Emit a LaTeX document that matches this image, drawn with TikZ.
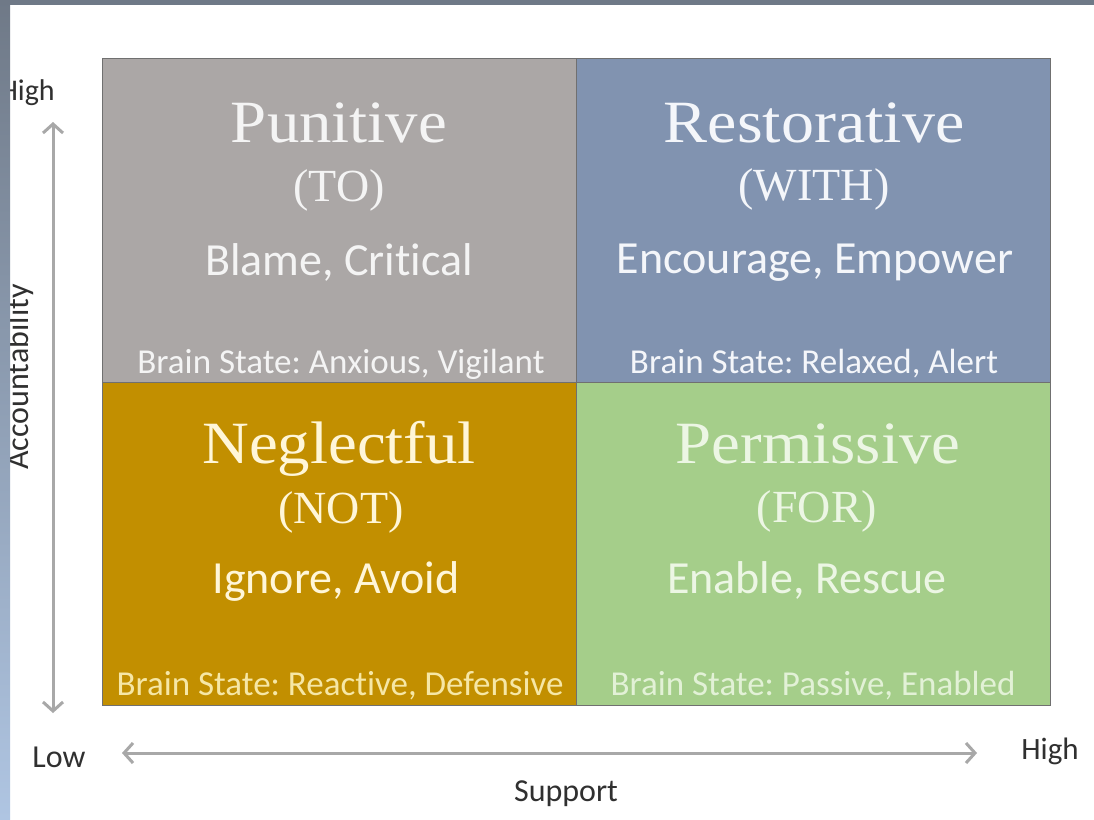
\documentclass[tikz,border=0pt]{standalone}
\usepackage{fontspec}
\usepackage{graphicx}
\setmainfont{Liberation Serif}
\newfontfamily\sansf[RawFeature={-liga;-dlig}]{Carlito}
\usetikzlibrary{arrows.meta}
\frenchspacing
\definecolor{punc}{HTML}{ABA7A6}
\definecolor{resc}{HTML}{8193B0}
\definecolor{negc}{HTML}{C28F00}
\definecolor{perc}{HTML}{A5CE8A}
\definecolor{edgec}{HTML}{707070}
\definecolor{puntxt}{HTML}{F4F4F4}
\definecolor{restxt}{HTML}{F4F6FA}
\definecolor{negtxt}{HTML}{FFF6D8}
\definecolor{negbrain}{HTML}{F6E7A6}
\definecolor{pertxt}{HTML}{ECF6E4}
\definecolor{perbrain}{HTML}{E2F1D6}
\definecolor{axc}{HTML}{A8A8A8}
\definecolor{axtext}{HTML}{303030}
\definecolor{bandtop}{HTML}{6F7987}
\definecolor{bandbot}{HTML}{AFC5E2}
\begin{document}
\begin{tikzpicture}[x=1pt,y=-1pt,
  quad/.style={draw=edgec, line width=1.3pt, minimum width=474pt, minimum height=324pt, anchor=north west, inner sep=0pt},
  ttl/.style={anchor=base, inner sep=0pt, font=\fontsize{60}{60}\selectfont},
  sub/.style={anchor=base, inner sep=0pt, font=\fontsize{46}{46}\selectfont},
  verb/.style={anchor=base, inner sep=0pt, font=\sansf\fontsize{46}{46}\selectfont},
  brain/.style={anchor=base, inner sep=0pt, font=\sansf\fontsize{35}{35}\selectfont},
  axlbl/.style={anchor=base, inner sep=0pt, text=axtext, font=\sansf\fontsize{31}{31}\selectfont},
  axarrow/.style={draw=axc, line width=3pt, {Straight Barb[length=9pt,width=20pt]}-{Straight Barb[length=9pt,width=20pt]}}
]
\useasboundingbox (0,0) rectangle (1094,819);
\fill[white] (0,0) rectangle (1094,819);

% quadrants
\node[quad, fill=negc, minimum height=323pt] (neg) at (102,382) {};
\node[quad, fill=perc, minimum height=323pt] (per) at (576,382) {};
\node[quad, fill=punc] (pun) at (102,58) {};
\node[quad, fill=resc] (res) at (576,58) {};

% Punitive
\node[ttl, text=puntxt] (punT) at (339,142) {\scalebox{1.08}[1]{Punitive}};
\node[sub, text=puntxt] (punS) at (339,201) {(TO)};
\node[verb, text=puntxt] (punV) at (339,275) {Blame, Critical};
\node[brain, text=puntxt] (punB) at (341,373) {Brain State: Anxious, Vigilant};

% Restorative
\node[ttl, text=restxt] (resT) at (814,142) {\scalebox{1.1}[1]{Restorative}};
\node[sub, text=restxt] (resS) at (814,200) {(WITH)};
\node[verb, text=restxt] (resV) at (815,273) {Encourage, Empower};
\node[brain, text=restxt] (resB) at (814,373) {Brain State: Relaxed, Alert};

% Neglectful
\node[ttl, text=negtxt] (negT) at (339,463) {\scalebox{1.08}[1]{Neglectful}};
\node[sub, text=negtxt] (negS) at (341,523) {(NOT)};
\node[verb, text=negtxt] (negV) at (336,593) {Ignore, Avoid};
\node[brain, text=negbrain] (negB) at (340,695) {Brain State: Reactive, Defensive};

% Permissive
\node[ttl, text=pertxt] (perT) at (818,463) {\scalebox{1.08}[1]{Permissive}};
\node[sub, text=pertxt] (perS) at (817,522) {(FOR)};
\node[verb, text=pertxt] (perV) at (807,593) {Enable, Rescue};
\node[brain, text=perbrain] (perB) at (813,695) {Brain State: Passive, Enabled};

% axes
\coordinate (vtop) at (53,122);
\coordinate (vbot) at (53,713);
\draw[axarrow] (vtop) -- (vbot);
\coordinate (hleft) at (122,753);
\coordinate (hright) at (977,753);
\draw[axarrow] (hleft) -- (hright);

\node[axlbl, font=\sansf\fontsize{30}{30}\selectfont] (hiV) at (27,100) {High};
\node[axlbl, rotate=90, font=\sansf\fontsize{32}{32}\selectfont] (acc) at (28.5,377) {Accountability};
\node[axlbl, font=\sansf\fontsize{32}{32}\selectfont] (low) at (59,767) {Low};
\node[axlbl] (hiH) at (1050,759) {High};
\node[axlbl, font=\sansf\fontsize{32}{32}\selectfont] (sup) at (566,801) {Support};

% frame bands
\shade[top color=bandtop, bottom color=bandbot] (0,0) rectangle (10,819);
\fill[bandtop] (0,0) rectangle (1094,4.5);
\end{tikzpicture}
\end{document}
